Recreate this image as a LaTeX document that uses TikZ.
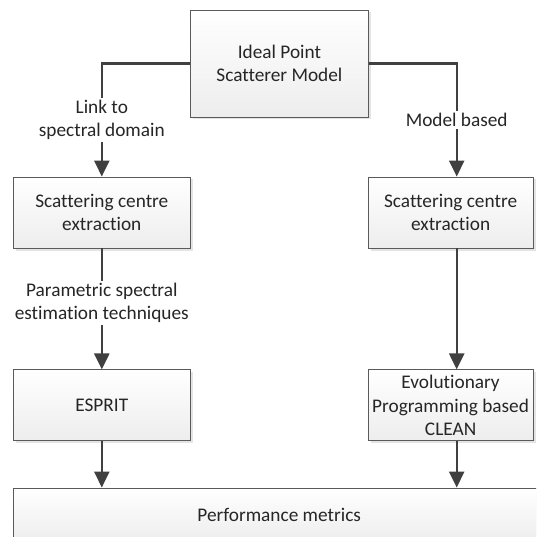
\documentclass[tikz,border=0pt]{standalone}
\usepackage{fontspec}
\setmainfont[Ligatures=NoCommon]{Carlito}
\usetikzlibrary{arrows.meta, positioning, shadows}
\definecolor{lineColor}{RGB}{64,64,64}
\definecolor{boxEdge}{RGB}{90,90,90}
\definecolor{textColor}{RGB}{38,38,38}
\tikzstyle{stage} = [rectangle, align=center, draw=boxEdge, line width=0.9pt, top color=white, bottom color=gray!14, text=textColor, font=\fontsize{19.3}{23.5}\selectfont, drop shadow={shadow xshift=2.5pt, shadow yshift=-2.5pt, fill=gray!35, opacity=0.6}]
\tikzstyle{arrow} = [line width=2.4pt, lineColor, -{Triangle[length=16pt, width=15pt]}]
\tikzstyle{lbl} = [fill=white, text=textColor, align=center, inner sep=2pt, font=\fontsize{19.3}{23.5}\selectfont]

\begin{document}
\begin{tikzpicture}[x=1pt, y=-1pt]
    \useasboundingbox (0,0) rectangle (536,537);
    \clip (0,0) rectangle (536,537);
    % Model at the top
    \node (ipsm) [stage, minimum width=178pt, minimum height=107pt] at (279.4,63.5) {Ideal Point\\Scatterer Model};

    % Two branches
    \node (sce_left) [stage, minimum width=177pt, minimum height=71pt] at (101.8,212.5) {Scattering centre\\extraction};
    \node (sce_right) [stage, minimum width=165pt, minimum height=71pt] at (450.6,212.5) {Scattering centre\\extraction};
    \node (esprit) [stage, minimum width=177pt, minimum height=71pt, below=121pt of sce_left] {ESPRIT};
    \node (ep_clean) [stage, minimum width=165pt, minimum height=71pt, inner sep=1pt, below=121pt of sce_right] {Evolutionary\\Programming based\\CLEAN};

    % Metrics
    \node (metrics) [stage, minimum width=531pt, minimum height=54pt] at (279.2,515) {Performance metrics};

    \draw [arrow] (ipsm.west) -| node [lbl, pos=0.75] {Link to\\spectral domain} (sce_left.north);
    \draw [arrow] (ipsm.east) -| node [lbl, pos=0.75] {Model based} ([xshift=6.1pt]sce_right.north);
    \draw [arrow] (sce_left) -- node [lbl, pos=0.45] {Parametric spectral\\estimation techniques} (esprit);
    \draw [arrow] ([xshift=6.1pt]sce_right.south) -- ([xshift=6.1pt]ep_clean.north);
    \draw [arrow] (esprit) -- (esprit |- metrics.north);
    \draw [arrow] ([xshift=6.1pt]ep_clean.south) -- ([xshift=6.1pt]ep_clean.south |- metrics.north);
\end{tikzpicture}
\end{document}
